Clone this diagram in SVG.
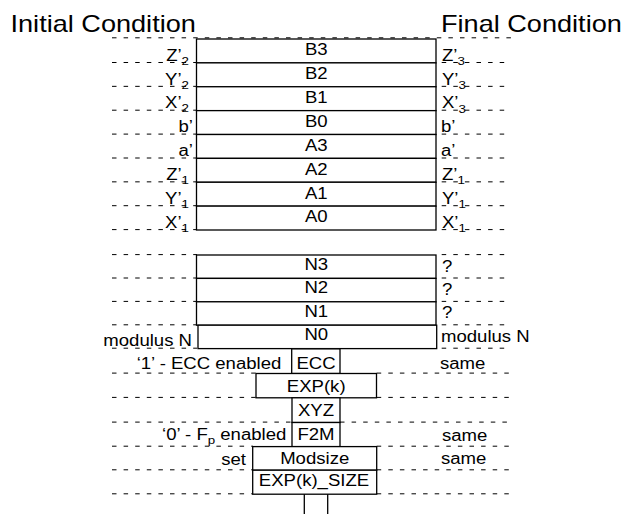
<svg xmlns="http://www.w3.org/2000/svg" width="621" height="514" viewBox="0 0 621 514">
<style>
.d{stroke:#000;stroke-width:1;stroke-dasharray:4.5 7.1;fill:none}
.b{fill:#fff;stroke:#000;stroke-width:1.3}
.l{stroke:#000;stroke-width:1.3;fill:none}
text{font-family:"Liberation Sans",Arial,sans-serif;font-size:16px;fill:#000}
.ti{font-size:24px}
.m{text-anchor:middle}
.e{text-anchor:end}
.s{font-size:11.5px}
</style>
<rect width="621" height="514" fill="#fff"/>
<g id="guides">
<line class="d" x1="112" y1="37.8" x2="511" y2="37.8"/>
<line class="d" x1="112" y1="62.5" x2="197" y2="62.5"/>
<line class="d" x1="112" y1="86.35" x2="197" y2="86.35"/>
<line class="d" x1="112" y1="110.2" x2="197" y2="110.2"/>
<line class="d" x1="112" y1="134.1" x2="197" y2="134.1"/>
<line class="d" x1="112" y1="158" x2="197" y2="158"/>
<line class="d" x1="112" y1="181.85" x2="197" y2="181.85"/>
<line class="d" x1="112" y1="205.7" x2="197" y2="205.7"/>
<line class="d" x1="112" y1="229.6" x2="197" y2="229.6"/>
<line class="d" x1="112" y1="254.6" x2="197" y2="254.6"/>
<line class="d" x1="112" y1="278" x2="197" y2="278"/>
<line class="d" x1="112" y1="301.4" x2="197" y2="301.4"/>
<line class="d" x1="112" y1="324.8" x2="197" y2="324.8"/>
<line class="d" x1="112" y1="348.2" x2="197" y2="348.2"/>
<line class="d" x1="112" y1="373.1" x2="256" y2="373.1"/>
<line class="d" x1="112" y1="397.4" x2="256" y2="397.4"/>
<line class="d" x1="112" y1="422.1" x2="292" y2="422.1"/>
<line class="d" x1="112" y1="446.2" x2="253" y2="446.2"/>
<line class="d" x1="112" y1="469.8" x2="253" y2="469.8"/>
<line class="d" x1="112" y1="493.8" x2="253" y2="493.8"/>
<line class="d" x1="441.7" y1="62.5" x2="511" y2="62.5"/>
<line class="d" x1="441.7" y1="86.35" x2="511" y2="86.35"/>
<line class="d" x1="441.7" y1="110.2" x2="511" y2="110.2"/>
<line class="d" x1="441.7" y1="134.1" x2="511" y2="134.1"/>
<line class="d" x1="441.7" y1="158" x2="511" y2="158"/>
<line class="d" x1="441.7" y1="181.85" x2="511" y2="181.85"/>
<line class="d" x1="441.7" y1="205.7" x2="511" y2="205.7"/>
<line class="d" x1="441.7" y1="229.6" x2="511" y2="229.6"/>
<line class="d" x1="441.7" y1="254.6" x2="511" y2="254.6"/>
<line class="d" x1="441.7" y1="278" x2="511" y2="278"/>
<line class="d" x1="441.7" y1="301.4" x2="511" y2="301.4"/>
<line class="d" x1="441.7" y1="324.8" x2="511" y2="324.8"/>
<line class="d" x1="441.7" y1="348.2" x2="511" y2="348.2"/>
<line class="d" x1="376.7" y1="373.1" x2="511" y2="373.1"/>
<line class="d" x1="376.7" y1="397.4" x2="511" y2="397.4"/>
<line class="d" x1="340" y1="422.1" x2="511" y2="422.1"/>
<line class="d" x1="376.7" y1="446.2" x2="511" y2="446.2"/>
<line class="d" x1="376.7" y1="469.8" x2="511" y2="469.8"/>
<line class="d" x1="376.7" y1="493.8" x2="511" y2="493.8"/>
</g>
<g id="titles">
<text class="ti" transform="translate(10.5,31.7) scale(1.13,1)">Initial Condition</text>
<text class="ti" transform="translate(441,31.7) scale(1.13,1)">Final Condition</text>
</g>
<g id="B3"><rect class="b" x="196.5" y="39" width="239.5" height="23.875"/><text class="m" transform="translate(316.25,55.3) scale(1.16,1)">B3</text></g>
<g id="B2"><rect class="b" x="196.5" y="62.875" width="239.5" height="23.875"/><text class="m" transform="translate(316.25,79.2) scale(1.16,1)">B2</text></g>
<g id="B1"><rect class="b" x="196.5" y="86.75" width="239.5" height="23.875"/><text class="m" transform="translate(316.25,103) scale(1.16,1)">B1</text></g>
<g id="B0"><rect class="b" x="196.5" y="110.625" width="239.5" height="23.875"/><text class="m" transform="translate(316.25,126.9) scale(1.16,1)">B0</text></g>
<g id="A3"><rect class="b" x="196.5" y="134.5" width="239.5" height="23.875"/><text class="m" transform="translate(316.25,150.8) scale(1.16,1)">A3</text></g>
<g id="A2"><rect class="b" x="196.5" y="158.375" width="239.5" height="23.875"/><text class="m" transform="translate(316.25,174.7) scale(1.16,1)">A2</text></g>
<g id="A1"><rect class="b" x="196.5" y="182.25" width="239.5" height="23.875"/><text class="m" transform="translate(316.25,198.5) scale(1.16,1)">A1</text></g>
<g id="A0"><rect class="b" x="196.5" y="206.125" width="239.5" height="23.875"/><text class="m" transform="translate(316.25,222.4) scale(1.16,1)">A0</text></g>
<g id="N3"><rect class="b" x="196.5" y="255" width="239.5" height="23.4"/><text class="m" transform="translate(316.25,269.8) scale(1.16,1)">N3</text></g>
<g id="N2"><rect class="b" x="196.5" y="278.4" width="239.5" height="23.4"/><text class="m" transform="translate(316.25,293.2) scale(1.16,1)">N2</text></g>
<g id="N1"><rect class="b" x="196.5" y="301.8" width="239.5" height="23.4"/><text class="m" transform="translate(316.25,316.6) scale(1.16,1)">N1</text></g>
<g id="N0"><rect class="b" x="198" y="325.2" width="238.7" height="23.4"/><text class="m" transform="translate(316.25,340) scale(1.16,1)">N0</text></g>
<g id="ECC"><rect class="b" x="291.7" y="348.9" width="48.3" height="24.6"/><text class="m" transform="translate(316,369) scale(1.16,1)">ECC</text></g>
<g id="EXPk"><rect class="b" x="256" y="373.5" width="120.5" height="24.3"/><text class="m" transform="translate(316.2,391.8) scale(1.16,1)">EXP(k)</text></g>
<g id="XYZ"><rect class="b" x="292" y="397.8" width="48" height="24.7"/><text class="m" transform="translate(316,416) scale(1.16,1)">XYZ</text></g>
<g id="F2M"><rect class="b" x="292" y="422.5" width="48" height="24.1"/><text class="m" transform="translate(316,440) scale(1.16,1)">F2M</text></g>
<g id="Modsize"><rect class="b" x="252.7" y="446.6" width="124" height="23.6"/><text class="m" transform="translate(314.7,463.5) scale(1.16,1)">Modsize</text></g>
<g id="EXPkSIZE"><rect class="b" x="252.7" y="470.2" width="124" height="24"/><text class="m" transform="translate(314,486) scale(1.16,1)">EXP(k)_SIZE</text></g>
<g id="left-labels">
<text class="e" transform="translate(189,60.6) scale(1.16,1)">Z’<tspan class="s" dy="4">2</tspan></text>
<text class="e" transform="translate(189,84.5) scale(1.16,1)">Y’<tspan class="s" dy="4">2</tspan></text>
<text class="e" transform="translate(189,108.3) scale(1.16,1)">X’<tspan class="s" dy="4">2</tspan></text>
<text class="e" transform="translate(193,132.2) scale(1.16,1)">b’</text>
<text class="e" transform="translate(193,156.1) scale(1.16,1)">a’</text>
<text class="e" transform="translate(189,180) scale(1.16,1)">Z’<tspan class="s" dy="4">1</tspan></text>
<text class="e" transform="translate(189,203.8) scale(1.16,1)">Y’<tspan class="s" dy="4">1</tspan></text>
<text class="e" transform="translate(189,227.7) scale(1.16,1)">X’<tspan class="s" dy="4">1</tspan></text>
<text class="e" transform="translate(192,346) scale(1.16,1)">modulus N</text>
<text class="e" transform="translate(281.3,368.5) scale(1.16,1)">‘1’ - ECC enabled</text>
<text class="e" transform="translate(286.3,440) scale(1.16,1)">‘0’ - F<tspan class="s" dy="4">p</tspan><tspan dy="-4"> enabled</tspan></text>
<text class="e" transform="translate(246,465) scale(1.16,1)">set</text>
</g>
<g id="right-labels">
<text transform="translate(442,60.6) scale(1.16,1)">Z’<tspan class="s" dy="4.5">3</tspan></text>
<text transform="translate(442,84.5) scale(1.16,1)">Y’<tspan class="s" dy="4.5">3</tspan></text>
<text transform="translate(442,108.3) scale(1.16,1)">X’<tspan class="s" dy="4.5">3</tspan></text>
<text transform="translate(441,132.2) scale(1.16,1)">b’</text>
<text transform="translate(441,156.1) scale(1.16,1)">a’</text>
<text transform="translate(442,180) scale(1.16,1)">Z’<tspan class="s" dy="4">1</tspan></text>
<text transform="translate(442,203.8) scale(1.16,1)">Y’<tspan class="s" dy="4">1</tspan></text>
<text transform="translate(442,227.7) scale(1.16,1)">X’<tspan class="s" dy="4">1</tspan></text>
<text transform="translate(442,271.5) scale(1.16,1)">?</text>
<text transform="translate(442,294.9) scale(1.16,1)">?</text>
<text transform="translate(442,318.3) scale(1.16,1)">?</text>
<text transform="translate(441,341.7) scale(1.16,1)">modulus N</text>
<text transform="translate(440,369.3) scale(1.16,1)">same</text>
<text transform="translate(442,441) scale(1.16,1)">same</text>
<text transform="translate(441,464) scale(1.16,1)">same</text>
</g>
<g id="connectors">
<line class="l" x1="304.3" y1="494.2" x2="304.3" y2="514"/>
<line class="l" x1="327.7" y1="494.2" x2="327.7" y2="514"/>
</g>
</svg>
